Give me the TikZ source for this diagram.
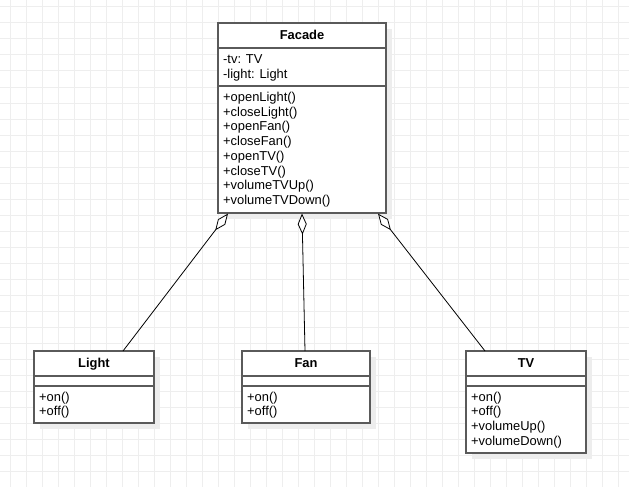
\documentclass[tikz,border=0pt]{standalone}
\usepackage{fontspec}
\setmainfont{Liberation Sans}
\usetikzlibrary{arrows.meta,calc,shadows}
\definecolor{gridc}{HTML}{EEEEEE}
\definecolor{boxc}{HTML}{5A5A5A}
\definecolor{shadc}{HTML}{EDEDED}
\begin{document}
\begin{tikzpicture}[x=1pt,y=-1pt,
  cls/.style={draw=boxc, line width=1.1pt, fill=white, inner sep=0pt, outer sep=0pt, anchor=north west,
    drop shadow={shadow xshift=6pt, shadow yshift=-6pt, fill=shadc, opacity=1}},
  sep/.style={draw=boxc, line width=1.1pt},
  txt/.style={anchor=base west, inner sep=0pt, font=\fontsize{12.9}{14}\selectfont},
  hdr/.style={anchor=base, inner sep=0pt, font=\fontsize{12.9}{14}\selectfont\bfseries},
  assoc/.style={{Diamond[length=21pt,width=9pt,fill=white,line width=0.8pt]}-, line width=0.8pt, black}]
\useasboundingbox (0,0) rectangle (629,487);
\fill[white] (0,0) rectangle (629,487);
\foreach \x in {10,26,...,626} \draw[gridc, line width=1pt] (\x,0) -- (\x,487);
\foreach \y in {7,23,...,487} \draw[gridc, line width=1pt] (0,\y) -- (629,\y);

% Facade
\node[cls, minimum width=168pt, minimum height=190pt] (facade) at (218,23) {};
\draw[sep] ($(facade.north west)+(0,25)$) -- ($(facade.north east)+(0,25)$);
\draw[sep] ($(facade.north west)+(0,63)$) -- ($(facade.north east)+(0,63)$);
\node[hdr] (facadeT) at ($(facade.north)+(0,16.5)$) {Facade};
\node[txt] (fa1) at ($(facade.north west)+(5,40.5)$) {-tv: TV};
\node[txt] (fa2) at ($(facade.north west)+(5,55.2)$) {-light: Light};
\foreach \t [count=\i from 0] in {+openLight(),+closeLight(),+openFan(),+closeFan(),+openTV(),+closeTV(),+volumeTVUp(),+volumeTVDown()}
  \node[txt] (fm\i) at ($(facade.north west)+(5,78.5+14.7*\i)$) {\t};

% Light
\node[cls, minimum width=120pt, minimum height=72pt] (light) at (34,351) {};
\draw[sep] ($(light.north west)+(0,25)$) -- ($(light.north east)+(0,25)$);
\draw[sep] ($(light.north west)+(0,35)$) -- ($(light.north east)+(0,35)$);
\node[hdr] (lightT) at ($(light.north)+(0,16.5)$) {Light};
\foreach \t [count=\i from 0] in {+on(),+off()}
  \node[txt] (lm\i) at ($(light.north west)+(5,50+14.7*\i)$) {\t};

% Fan
\node[cls, minimum width=128pt, minimum height=72pt] (fan) at (242,351) {};
\draw[sep] ($(fan.north west)+(0,25)$) -- ($(fan.north east)+(0,25)$);
\draw[sep] ($(fan.north west)+(0,35)$) -- ($(fan.north east)+(0,35)$);
\node[hdr] (fanT) at ($(fan.north)+(0,16.5)$) {Fan};
\foreach \t [count=\i from 0] in {+on(),+off()}
  \node[txt] (nm\i) at ($(fan.north west)+(5,50+14.7*\i)$) {\t};

% TV
\node[cls, minimum width=120pt, minimum height=102pt] (tv) at (466,351) {};
\draw[sep] ($(tv.north west)+(0,25)$) -- ($(tv.north east)+(0,25)$);
\draw[sep] ($(tv.north west)+(0,35)$) -- ($(tv.north east)+(0,35)$);
\node[hdr] (tvT) at ($(tv.north)+(0,16.5)$) {TV};
\foreach \t [count=\i from 0] in {+on(),+off(),+volumeUp(),+volumeDown()}
  \node[txt] (tm\i) at ($(tv.north west)+(5,50+14.7*\i)$) {\t};

% Aggregations
\draw[assoc] ($(facade.south west)+(10,0.6)$) -- ($(light.north west)+(89,0)$);
\draw[assoc] ($(facade.south)+(0,0.6)$) -- ($(fan.north)+(-1,0)$);
\draw[assoc] ($(facade.south east)+(-8,0.6)$) -- ($(tv.north west)+(19,0)$);
\end{tikzpicture}
\end{document}
